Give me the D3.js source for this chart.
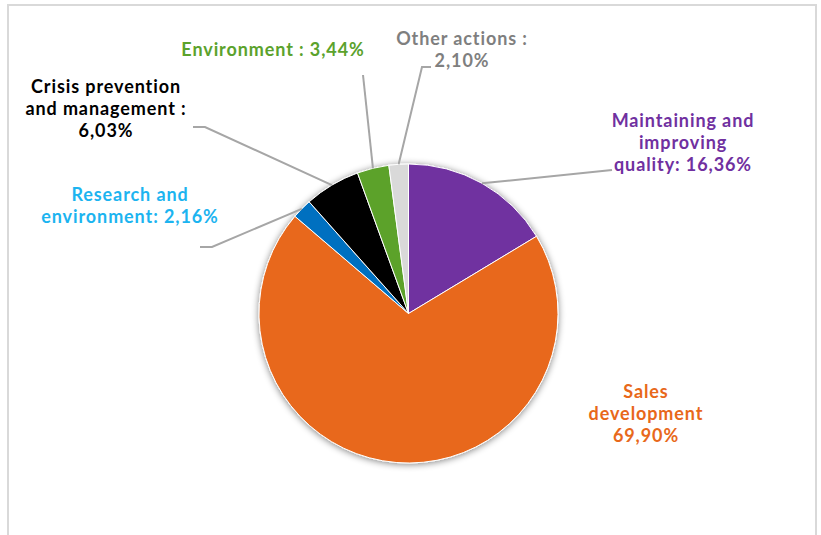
<!DOCTYPE html>
<html>
<head>
<meta charset="utf-8">
<script src="https://cdn.jsdelivr.net/npm/d3@7/dist/d3.min.js"></script>
<style>
  html, body { margin: 0; padding: 0; background: #ffffff; }
  svg { display: block; }
  text { font-family: Lato, "Open Sans", sans-serif; font-weight: 700; }
</style>
</head>
<body>
<svg id="chart" width="821" height="535"></svg>
<script>
// Budget allocation by action type (percent), clockwise from 12 o'clock
const categories = [
  "Maintaining and improving quality",
  "Sales development",
  "Research and environment",
  "Crisis prevention and management",
  "Environment",
  "Other actions"
];
const shares = [16.36, 69.90, 2.16, 6.03, 3.44, 2.10];
const sliceColors = ["#7030a0", "#e8681a", "#0070c0", "#000000", "#5ba22c", "#d9d9d9"];
const labelColors = ["#7030a0", "#e8681a", "#1cb4f0", "#000000", "#5ba22c", "#7f7f7f"];
// Label text lines; the last line holds the formatted value
const labelLines = [
  ["Maintaining and", "improving", "quality: {v}"],
  ["Sales", "development", "{v}"],
  ["Research and", "environment: {v}"],
  ["Crisis prevention", "and management :", "{v}"],
  ["Environment : {v}"],
  ["Other actions :", "{v}"]
];

const fmt = v => d3.format(".2f")(v).replace(".", ",") + "%";

// Label placement (anchor centre x, first baseline y) and leader line elbows
const labelPos = [
  { x: 683, y: 127, elbow: [[612, 170]] },
  { x: 646, y: 398, elbow: null },
  { x: 130, y: 201, elbow: [[212, 247], [200, 247]] },
  { x: 106, y: 93,  elbow: [[205, 127], [193, 127]] },
  { x: 273, y: 56,  elbow: [[363, 75]] },
  { x: 462, y: 45,  elbow: [[422, 67], [431, 67]] }
];

const svg = d3.select("#chart");
const W = 821, H = 535;
const cx = 408.5, cy = 313.5, R = 149.5;

// Chart frame
svg.append("rect").attr("width", W).attr("height", H).attr("fill", "#ffffff");
svg.append("path")
  .attr("d", `M8,${H} L8,5 L816,5 L816,${H}`)
  .attr("fill", "none").attr("stroke", "#d9d9d9").attr("stroke-width", 2);

// Soft shadow behind the pie
const defs = svg.append("defs");
const f = defs.append("filter").attr("id", "pieShadow")
  .attr("x", "-20%").attr("y", "-20%").attr("width", "140%").attr("height", "140%");
f.append("feGaussianBlur").attr("in", "SourceAlpha").attr("stdDeviation", 3.5).attr("result", "b");
f.append("feOffset").attr("in", "b").attr("dx", 0).attr("dy", 1).attr("result", "o");
f.append("feComponentTransfer").attr("in", "o").attr("result", "s")
  .append("feFuncA").attr("type", "linear").attr("slope", 0.5);
const m = f.append("feMerge");
m.append("feMergeNode").attr("in", "s");
m.append("feMergeNode").attr("in", "SourceGraphic");

const data = categories.map((c, i) => ({ name: c, value: shares[i], i }));
const pie = d3.pie().value(d => d.value).sort(null);
const arcs = pie(data);
const arc = d3.arc().innerRadius(0).outerRadius(R);

const g = svg.append("g").attr("transform", `translate(${cx},${cy})`);
const slices = g.append("g").attr("filter", "url(#pieShadow)");
slices.selectAll("path").data(arcs).join("path")
  .attr("d", arc)
  .attr("fill", d => sliceColors[d.data.i])
  .attr("stroke", "#ffffff")
  .attr("stroke-width", 1);

// Leader lines from slice edge midpoints to labels
const line = d3.line();
arcs.forEach(a => {
  const p = labelPos[a.data.i];
  if (!p.elbow) return;
  const mid = (a.startAngle + a.endAngle) / 2;
  const start = [cx + R * Math.sin(mid), cy - R * Math.cos(mid)];
  svg.append("path")
    .attr("d", line([start, ...p.elbow]))
    .attr("fill", "none")
    .attr("stroke", "#a6a6a6")
    .attr("stroke-width", 2);
});

// Labels
arcs.forEach(a => {
  const i = a.data.i;
  const p = labelPos[i];
  const t = svg.append("text")
    .attr("text-anchor", "middle")
    .attr("fill", labelColors[i])
    .attr("font-size", 18)
    .attr("letter-spacing", 0.9);
  labelLines[i].forEach((ln, k) => {
    t.append("tspan")
      .attr("x", p.x)
      .attr("y", p.y + k * 21.8)
      .text(ln.replace("{v}", fmt(a.data.value)));
  });
});
</script>
</body>
</html>
